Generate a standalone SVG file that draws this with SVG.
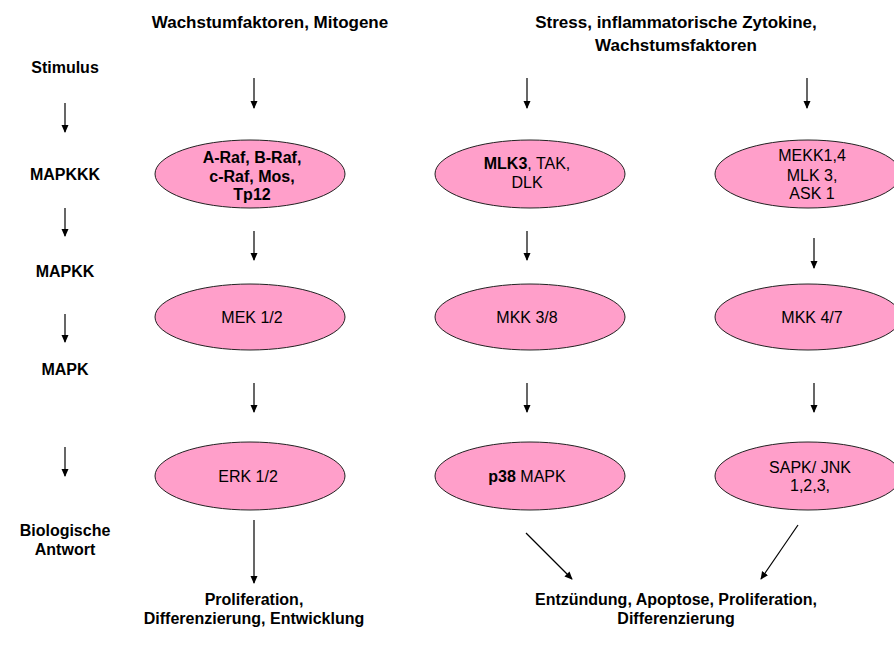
<svg xmlns="http://www.w3.org/2000/svg" width="894" height="645" viewBox="0 0 894 645">
<style>
text{font-family:"Liberation Sans",Arial,sans-serif;font-size:16px;fill:#000;text-anchor:middle}
.b{font-weight:bold}
.h{font-weight:bold;font-size:17px}
.node ellipse{fill:#FF9FCA;stroke:#222;stroke-width:1}
.conn line{stroke:#000;stroke-width:1.2;fill:none}
</style>
<defs>
<marker id="ah" markerWidth="8" markerHeight="10" refX="8" refY="4" orient="auto" markerUnits="userSpaceOnUse" viewBox="0 0 9 8">
<path d="M0,0 L9,4 L0,8 Z" fill="#000"/>
</marker>
</defs>
<rect width="894" height="645" fill="#fff"/>
<g id="headers">
<text class="h" x="270" y="28">Wachstumfaktoren, Mitogene</text>
<text class="h" x="676" y="28">Stress, inflammatorische Zytokine,</text>
<text class="h" x="676" y="51">Wachstumsfaktoren</text>
</g>
<g id="levels">
<text class="b" x="65" y="73">Stimulus</text>
<text class="b" x="65" y="180">MAPKKK</text>
<text class="b" x="65" y="277">MAPKK</text>
<text class="b" x="65" y="375">MAPK</text>
<text class="b" x="65" y="536">Biologische</text>
<text class="b" x="65" y="555">Antwort</text>
</g>
<g id="n-raf" class="node"><ellipse cx="250" cy="174" rx="95" ry="34"/>
<text class="b" x="252" y="163">A-Raf, B-Raf,</text><text class="b" x="252" y="182">c-Raf, Mos,</text><text class="b" x="252" y="200">Tp12</text></g>
<g id="n-mlk3" class="node"><ellipse cx="530" cy="174" rx="95" ry="34"/>
<text x="527" y="169"><tspan class="b">MLK3</tspan>, TAK,</text><text x="527" y="188">DLK</text></g>
<g id="n-mekk" class="node"><ellipse cx="808" cy="174" rx="93" ry="34"/>
<text x="812" y="161">MEKK1,4</text><text x="812" y="181">MLK 3,</text><text x="812" y="199">ASK 1</text></g>
<g id="n-mek" class="node"><ellipse cx="250" cy="317" rx="95" ry="33"/><text x="252" y="323">MEK 1/2</text></g>
<g id="n-mkk38" class="node"><ellipse cx="530" cy="317" rx="95" ry="33"/><text x="527" y="323">MKK 3/8</text></g>
<g id="n-mkk47" class="node"><ellipse cx="808" cy="317" rx="93" ry="33"/><text x="812" y="323">MKK 4/7</text></g>
<g id="n-erk" class="node"><ellipse cx="250" cy="476" rx="95" ry="34"/><text x="248" y="482">ERK 1/2</text></g>
<g id="n-p38" class="node"><ellipse cx="530" cy="476" rx="95" ry="34"/><text x="527" y="482"><tspan class="b">p38</tspan> MAPK</text></g>
<g id="n-jnk" class="node"><ellipse cx="808" cy="476" rx="93" ry="34"/><text x="810" y="473">SAPK/ JNK</text><text x="810" y="491">1,2,3,</text></g>
<g id="outcomes">
<text class="b" x="254" y="605">Proliferation,</text>
<text class="b" x="254" y="624">Differenzierung, Entwicklung</text>
<text class="b" x="676" y="605">Entzündung, Apoptose, Proliferation,</text>
<text class="b" x="676" y="624">Differenzierung</text>
</g>
<g id="connectors" class="conn">
<line x1="65" y1="103" x2="65" y2="132" marker-end="url(#ah)"/>
<line x1="65" y1="208" x2="65" y2="236" marker-end="url(#ah)"/>
<line x1="65" y1="314" x2="65" y2="342" marker-end="url(#ah)"/>
<line x1="65" y1="447" x2="65" y2="476" marker-end="url(#ah)"/>
<line x1="254" y1="78" x2="254" y2="108" marker-end="url(#ah)"/>
<line x1="527" y1="78" x2="527" y2="108" marker-end="url(#ah)"/>
<line x1="807" y1="78" x2="807" y2="108" marker-end="url(#ah)"/>
<line x1="254" y1="231" x2="254" y2="260" marker-end="url(#ah)"/>
<line x1="527" y1="231" x2="527" y2="260" marker-end="url(#ah)"/>
<line x1="814" y1="238" x2="814" y2="268" marker-end="url(#ah)"/>
<line x1="254" y1="383" x2="254" y2="412" marker-end="url(#ah)"/>
<line x1="527" y1="383" x2="527" y2="412" marker-end="url(#ah)"/>
<line x1="814" y1="383" x2="814" y2="412" marker-end="url(#ah)"/>
<line x1="254" y1="520" x2="254" y2="583" marker-end="url(#ah)"/>
<line x1="526" y1="533" x2="572" y2="579" marker-end="url(#ah)"/>
<line x1="798" y1="525" x2="761" y2="579" marker-end="url(#ah)"/>
</g>
</svg>
